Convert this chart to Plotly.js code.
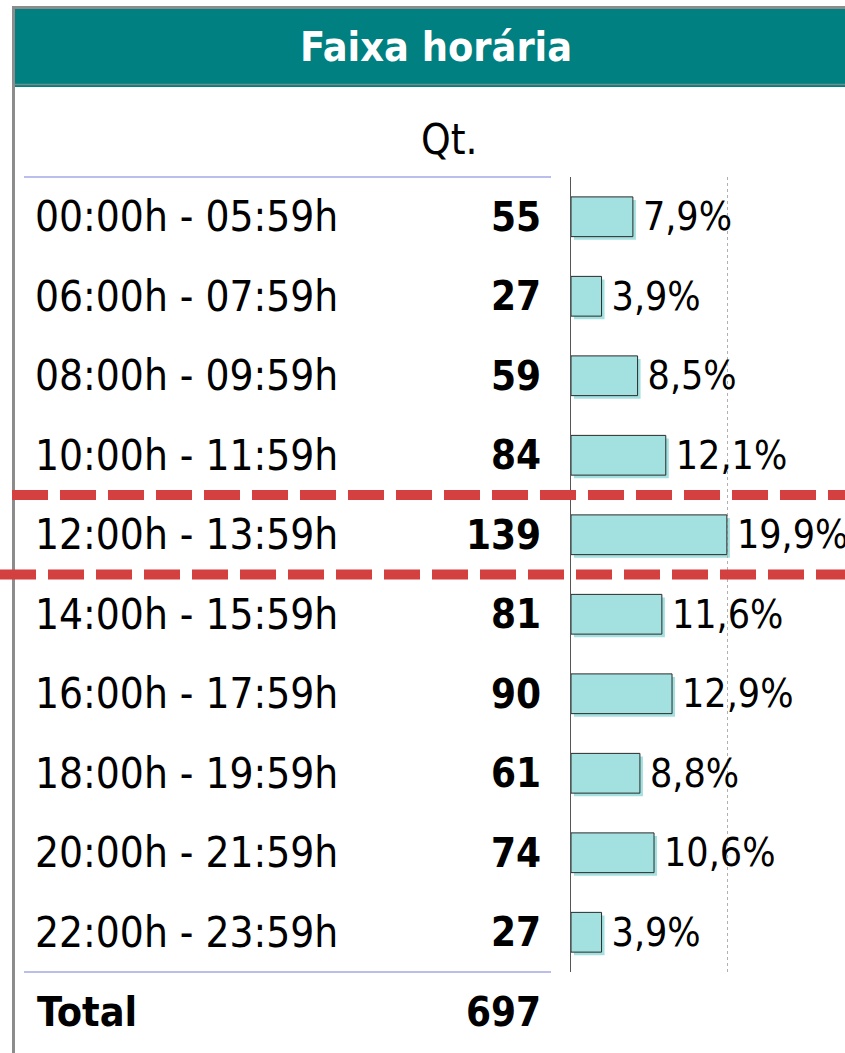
<!DOCTYPE html>
<html>
<head>
<meta charset="utf-8">
<script src="https://cdn.plot.ly/plotly-3.0.1.min.js"></script>
<style>
html,body{margin:0;padding:0;background:#fff;}
#chart{width:845px;height:1053px;}
</style>
</head>
<body>
<div id="chart"></div>
<script>
// ---- data ----
const categories = ["00:00h - 05:59h","06:00h - 07:59h","08:00h - 09:59h","10:00h - 11:59h","12:00h - 13:59h","14:00h - 15:59h","16:00h - 17:59h","18:00h - 19:59h","20:00h - 21:59h","22:00h - 23:59h"];
const quantities = [55, 27, 59, 84, 139, 81, 90, 61, 74, 27];
const percents = [7.9, 3.9, 8.5, 12.1, 19.9, 11.6, 12.9, 8.8, 10.6, 3.9];
const totalLabel = "Total";
const totalValue = 697;
const titleText = "Faixa horária";
const qtHeader = "Qt.";
const highlightIndex = 4;

// ---- geometry helpers (layout only) ----
const W = 845, H = 1053;
const ML = 571, MR = 0, MT = 177, MB = 78;
const PW = W - ML - MR, PH = H - MT - MB;
const SH = 3; // shadow offset px
const px = v => (v - ML) / PW;
const py = v => (H - MB - v) / PH;

const FONT = '"DejaVu Sans Condensed", "Noto Sans", "DejaVu Sans", sans-serif';
const FS = 42;
const XMAX = 34.6;

const fmt = v => '\u2009' + v.toFixed(1).replace('.', ',') + '%';

const shadow = {
  type: 'bar', orientation: 'h',
  x: percents, y: categories,
  xaxis: 'x', yaxis: 'y',
  width: 0.5,
  marker: {color: '#a3e0e0', line: {width: 0}},
  hoverinfo: 'skip', showlegend: false
};
const bars = {
  type: 'bar', orientation: 'h',
  x: percents, y: categories,
  xaxis: 'x2', yaxis: 'y2',
  width: 0.5,
  marker: {color: '#a3e0e0', line: {color: '#2a2a2a', width: 1}},
  text: percents.map(fmt),
  textposition: 'outside',
  constraintext: 'none',
  cliponaxis: false,
  textfont: {family: FONT, size: 39, color: '#000'},
  hoverinfo: 'skip', showlegend: false
};

const annotations = [];
categories.forEach((c, i) => {
  annotations.push({xref: 'paper', yref: 'y2', x: px(33), y: c, xanchor: 'left', yanchor: 'middle',
    text: c, showarrow: false, font: {family: FONT, size: FS, color: '#000'}});
  annotations.push({xref: 'paper', yref: 'y2', x: px(543), y: c, xanchor: 'right', yanchor: 'middle',
    text: '<b>' + quantities[i] + '</b>', showarrow: false, font: {family: FONT, size: 40, color: '#000'}});
});
annotations.push({xref: 'paper', yref: 'paper', x: px(35), y: py(1012), xanchor: 'left', yanchor: 'middle',
  text: '<b>' + totalLabel + '</b>', showarrow: false, font: {family: FONT, size: 41, color: '#000'}});
annotations.push({xref: 'paper', yref: 'paper', x: px(543), y: py(1012), xanchor: 'right', yanchor: 'middle',
  text: '<b>' + totalValue + '</b>', showarrow: false, font: {family: FONT, size: 40, color: '#000'}});
annotations.push({xref: 'paper', yref: 'paper', x: px(449), y: py(140), xanchor: 'center', yanchor: 'middle',
  text: qtHeader, showarrow: false, font: {family: FONT, size: FS, color: '#000'}});

const shapes = [
  // header box
  {type: 'rect', xref: 'paper', yref: 'paper', x0: px(15), x1: px(845), y0: py(87), y1: py(9),
    fillcolor: '#008080', line: {width: 0}, layer: 'below'},
  {type: 'line', xref: 'paper', yref: 'paper', x0: px(15), x1: px(845), y0: py(84.5), y1: py(84.5),
    line: {color: '#7a8a88', width: 1.5}},
  // outer frame
  {type: 'line', xref: 'paper', yref: 'paper', x0: px(12), x1: px(845), y0: py(7.5), y1: py(7.5),
    line: {color: '#8c8c8c', width: 3}},
  {type: 'line', xref: 'paper', yref: 'paper', x0: px(13.5), x1: px(13.5), y0: py(6), y1: py(1053),
    line: {color: '#8c8c8c', width: 3}},
  // table rules
  {type: 'line', xref: 'paper', yref: 'paper', x0: px(24), x1: px(551), y0: 1, y1: 1,
    line: {color: '#a3a8e6', width: 1.5}},
  {type: 'line', xref: 'paper', yref: 'paper', x0: px(24), x1: px(551), y0: py(972), y1: py(972),
    line: {color: '#a3a8e6', width: 1.5}},
  // highlight dashed lines
  {type: 'line', xref: 'paper', yref: 'y2', x0: px(12), x1: px(845), y0: highlightIndex - 0.5, y1: highlightIndex - 0.5,
    line: {color: '#d43f3f', width: 10, dash: '36px,12px'}, layer: 'above'},
  {type: 'line', xref: 'paper', yref: 'y2', x0: px(0), x1: px(845), y0: highlightIndex + 0.5, y1: highlightIndex + 0.5,
    line: {color: '#d43f3f', width: 10, dash: '36px,12px'}, layer: 'above'}
];

const layout = {
  width: W, height: H,
  margin: {l: ML, r: MR, t: MT, b: MB, pad: 0},
  paper_bgcolor: '#fff', plot_bgcolor: 'rgba(0,0,0,0)',
  title: {text: '<b>' + titleText + '</b>', xref: 'container', yref: 'container', x: 436 / W, y: 1 - 47 / H,
    xanchor: 'center', yanchor: 'middle', font: {family: FONT, size: 41, color: '#fff'}},
  showlegend: false,
  bargap: 0.5,
  xaxis: {domain: [SH / PW, 1], range: [0, XMAX], showgrid: false, zeroline: false, showticklabels: false,
    ticks: '', showline: false, fixedrange: true},
  yaxis: {domain: [0, 1 - SH / PH], type: 'category', range: [categories.length - 0.5, -0.5],
    showgrid: false, showticklabels: false, ticks: '', showline: false, zeroline: false, fixedrange: true},
  xaxis2: {domain: [0, 1 - SH / PW], range: [0, XMAX], anchor: 'y2', showgrid: true, tickvals: [20],
    gridcolor: '#b0b0b0', griddash: 'dot', gridwidth: 1, zeroline: false, showticklabels: false, ticks: '',
    showline: false, fixedrange: true},
  yaxis2: {domain: [SH / PH, 1], anchor: 'x2', type: 'category', range: [categories.length - 0.5, -0.5],
    showgrid: false, showticklabels: false, ticks: '', showline: true, linecolor: '#555', linewidth: 1.5,
    zeroline: false, fixedrange: true},
  annotations: annotations,
  shapes: shapes
};

Plotly.newPlot('chart', [shadow, bars], layout, {displayModeBar: false, staticPlot: true});
</script>
</body>
</html>
